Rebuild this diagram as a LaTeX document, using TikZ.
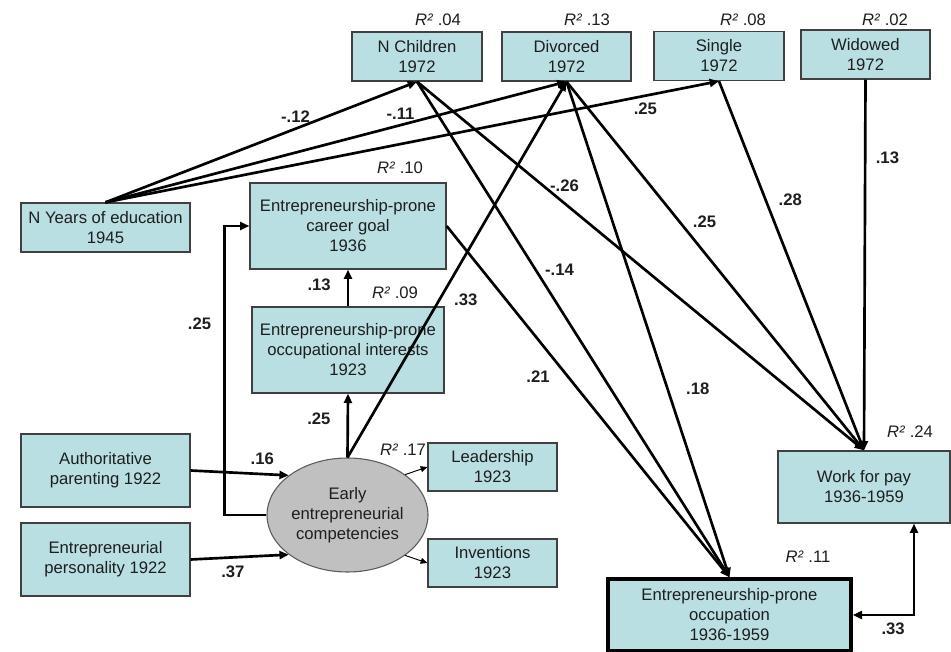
\documentclass[tikz,border=0pt]{standalone}
\usepackage{fontspec}
\setmainfont{Liberation Sans}
\usepackage{tikz}
\usetikzlibrary{arrows.meta,positioning,shapes.geometric,calc}
\definecolor{boxfill}{HTML}{B9DFE3}
\definecolor{boxline}{HTML}{404040}
\definecolor{latfill}{HTML}{C0C0C0}
\definecolor{latline}{HTML}{5A5A5A}
\definecolor{txt}{HTML}{1E1E1E}
\tikzset{
  varbox/.style={
    rectangle, draw=boxline, fill=boxfill, line width=1pt,
    minimum width=97.5pt, minimum height=36.75pt,
    font=\fontsize{12.5}{15}\selectfont, text=txt, align=center,
    inner sep=2pt
  },
  latent/.style={
    ellipse, draw=latline, fill=latfill, line width=0.8pt,
    minimum width=120.75pt, minimum height=85.5pt, inner sep=0pt,
    font=\fontsize{12.5}{15}\selectfont, text=txt, align=center
  },
  patharrow/.style={-{Triangle[length=7pt,width=6pt]}, line width=2pt, color=black},
  loadarrow/.style={-{Triangle[length=5pt,width=4.5pt]}, line width=0.7pt, color=black},
  coef/.style={font=\fontsize{12.5}{15}\selectfont\bfseries, text=txt, inner sep=2pt},
  rsq/.style={font=\fontsize{12.5}{15}\selectfont, text=txt, inner sep=0pt},
}
\newcommand{\rsqval}[1]{\textit{R²} #1}

\begin{document}
\begin{tikzpicture}[x=0.75pt, y=-0.75pt]
\useasboundingbox (0,0) rectangle (951,652);
% outcomes 1972
\node[varbox] (nch) at (417,56.5) {N Children\\1972};
\node[varbox, minimum width=96.75pt] (div) at (566.5,56.5) {Divorced\\1972};
\node[varbox] (sgl) at (719,56) {Single\\1972};
\node[varbox, minimum width=96.75pt] (wid) at (865.5,54.5) {Widowed\\1972};
\node[rsq] at (438,20) {\rsqval{.04}};
\node[rsq] at (587,20) {\rsqval{.13}};
\node[rsq] at (743,20) {\rsqval{.08}};
\node[rsq] at (885,20) {\rsqval{.02}};
% predictors
\node[varbox, minimum width=126.75pt] (nye) at (105.5,227.5) {N Years of education\\1945};
\node[varbox, minimum width=126.75pt, minimum height=54.75pt] (aut) at (105.5,470.5) {Authoritative\\parenting 1922};
\node[varbox, minimum width=126.75pt, minimum height=54.75pt] (per) at (105.5,559.5) {Entrepreneurial\\personality 1922};
% career path
\node[varbox, minimum width=147pt, minimum height=64.5pt] (cg) at (348,226) {Entrepreneurship-prone\\career goal\\1936};
\node[varbox, minimum width=144pt, minimum height=64.5pt] (oi) at (348,350) {Entrepreneurship-prone\\occupational interests\\1923};
\node[rsq] at (400,168) {\rsqval{.10}};
\node[rsq] at (395,293) {\rsqval{.09}};
% latent factor and indicators
\node[latent] (ell) at (347.5,515) {Early\\entrepreneurial\\competencies};
\node[varbox, minimum width=96.75pt, minimum height=36pt] (lead) at (492.5,467) {Leadership\\1923};
\node[varbox, minimum width=96.75pt, minimum height=36pt] (inv) at (492.5,563) {Inventions\\1923};
\node[rsq] at (403,450) {\rsqval{.17}};
% work outcomes
\node[varbox, minimum width=129pt, minimum height=54pt] (wfp) at (864,487) {Work for pay\\1936-1959};
\node[varbox, draw=black, line width=2.6pt, minimum width=182.25pt, minimum height=54pt] (occ) at (729.5,615) {Entrepreneurship-prone\\occupation\\1936-1959};
\node[rsq] at (910,432) {\rsqval{.24}};
\node[rsq] at (808,557) {\rsqval{.11}};

% paths
\draw[patharrow] (nye.north) -- node[coef, pos=0.61, above=2pt] {-.12} (nch.south);
\draw[patharrow] (nye.north) -- node[coef, pos=0.64, above=1pt] {-.11} (div.south);
\draw[patharrow] (nye.north) -- node[coef, pos=0.88, below=2pt] {.25} (sgl.south);
\draw[patharrow] (nch.south) -- node[coef, pos=0.33, above=6pt] {-.26} (wfp.north);
\draw[patharrow] (nch.south) -- node[coef, pos=0.38, right=4pt] {-.14} (occ.north);
\draw[patharrow] (div.south) -- node[coef, pos=0.38, right=7pt] {.25} (wfp.north);
\draw[patharrow] (div.south) -- node[coef, pos=0.62, right=11pt] {.18} (occ.north);
\draw[patharrow] (sgl.south) -- node[coef, pos=0.32, right=7pt] {.28} (wfp.north);
\draw[patharrow] (wid.south) -- node[coef, pos=0.21, right=5pt] {.13} (wfp.north);
\draw[patharrow] (cg.east) -- node[coef, pos=0.43, left=11pt] {.21} (occ.north);
\draw[patharrow] (oi.north) -- node[coef, pos=0.58, left=10pt] {.13} (cg.south);
\draw[patharrow] (ell.north) -- node[coef, pos=0.6, left=10pt] {.25} (oi.south);
\draw[patharrow] (ell.north) -- node[coef, pos=0.42, right=8pt] {.33} (div.south);
\draw[patharrow] (aut.east) -- node[coef, pos=0.73, above=4pt] {.16} (ell.146);
\draw[patharrow] (per.east) -- node[coef, pos=0.43, below=3pt] {.37} (ell.214);
\draw[patharrow] (ell.west) -- ++(-42,0) |- node[coef, pos=0.33, left=7pt] {.25} (cg.west);
\draw[loadarrow] (ell.35) -- (lead.west);
\draw[loadarrow] (ell.-35) -- (inv.west);
\draw[patharrow, {Triangle[length=7pt,width=6pt]}-{Triangle[length=7pt,width=6pt]}]
  (occ.east) -| node[coef, pos=0.33, below=3pt] {.33} ($(wfp.south)+(50,0)$);
\end{tikzpicture}
\end{document}
